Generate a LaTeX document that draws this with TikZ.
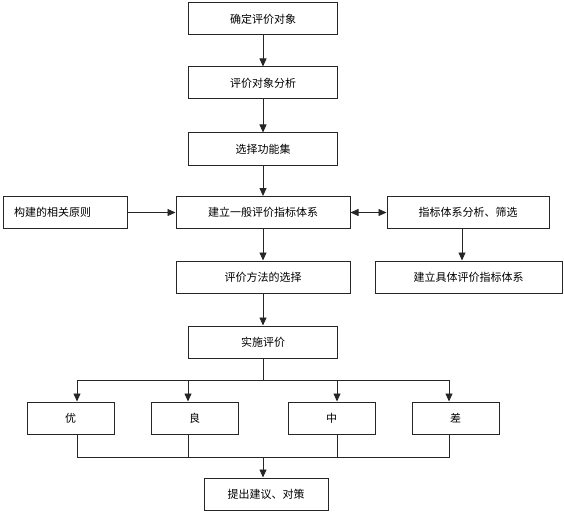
\documentclass[tikz,border=0pt]{standalone}
\usepackage{fontspec}
\newfontfamily\cjk{Noto Sans CJK SC}
\usetikzlibrary{arrows.meta, positioning, calc}

\begin{document}
\begin{tikzpicture}[x=1pt, y=-1pt,
        box/.style={rectangle, draw=black!85, line width=1pt, fill=white,
                    minimum height=32pt, inner sep=2pt,
                    font=\cjk\fontsize{11}{13}\selectfont},
        mid/.style={box, minimum width=149pt},
        wide/.style={box, minimum width=174pt},
        grade/.style={box, minimum width=87pt},
        arr/.style={draw=black!85, line width=0.8pt, -{Triangle[length=8pt, width=7pt]}},
        ln/.style={draw=black!85, line width=0.8pt},
      ]
        \useasboundingbox (0,0) rectangle (564,513);
        \node[mid] (goal) at (263,19) {确定评价对象};
        \node[mid] (analysis) at (263,83) {评价对象分析};
        \node[mid, minimum height=33pt] (funcset) at (263,149.5) {选择功能集};
        \node[box, minimum width=124pt, text width=102pt, align=left] (principle) at (65,212.5) {构建的相关原则};
        \node[wide] (general) at (263,212.5) {建立一般评价指标体系};
        \node[box, minimum width=162pt] (screen) at (468,212.5) {指标体系分析、筛选};
        \node[wide] (method) at (263,277) {评价方法的选择};
        \node[box, minimum width=187pt] (specific) at (468.5,277) {建立具体评价指标体系};
        \node[mid] (implement) at (263,342) {实施评价};
        \node[grade] (g1) at (70.5,418) {优};
        \node[grade] (g2) at (194.5,418) {良};
        \node[grade] (g3) at (331.5,418) {中};
        \node[grade] (g4) at (455.5,418) {差};
        \node[box, minimum width=124pt] (advice) at (266,494) {提出建议、对策};

        \coordinate (split) at (263,380);
        \coordinate (join) at (263,457);

        \draw[arr] (goal) -- (analysis);
        \draw[arr] (analysis) -- (funcset);
        \draw[arr] (funcset) -- (general);
        \draw[arr] (principle) -- (general);
        \draw[draw=black!85, line width=0.8pt, {Triangle[length=8pt, width=7pt]}-{Triangle[length=8pt, width=7pt]}] (general) -- (screen);
        \draw[arr] ([xshift=-6pt]screen.south) -- ([xshift=-6pt]screen.south |- specific.north);
        \draw[arr] (general) -- (method);
        \draw[arr] (method) -- (implement);
        \draw[ln] (implement) -- (split);
        \foreach \g/\dx in {g1/6.5, g2/-6.5, g3/5.5, g4/-6.5} {
          \draw[arr] (split) -| ([xshift=\dx pt]\g.north);
          \draw[ln] ([xshift=\dx pt]\g.south) |- (join);
        }
        \draw[arr] (join) -- (join |- advice.north);
      \end{tikzpicture}
\end{document}
